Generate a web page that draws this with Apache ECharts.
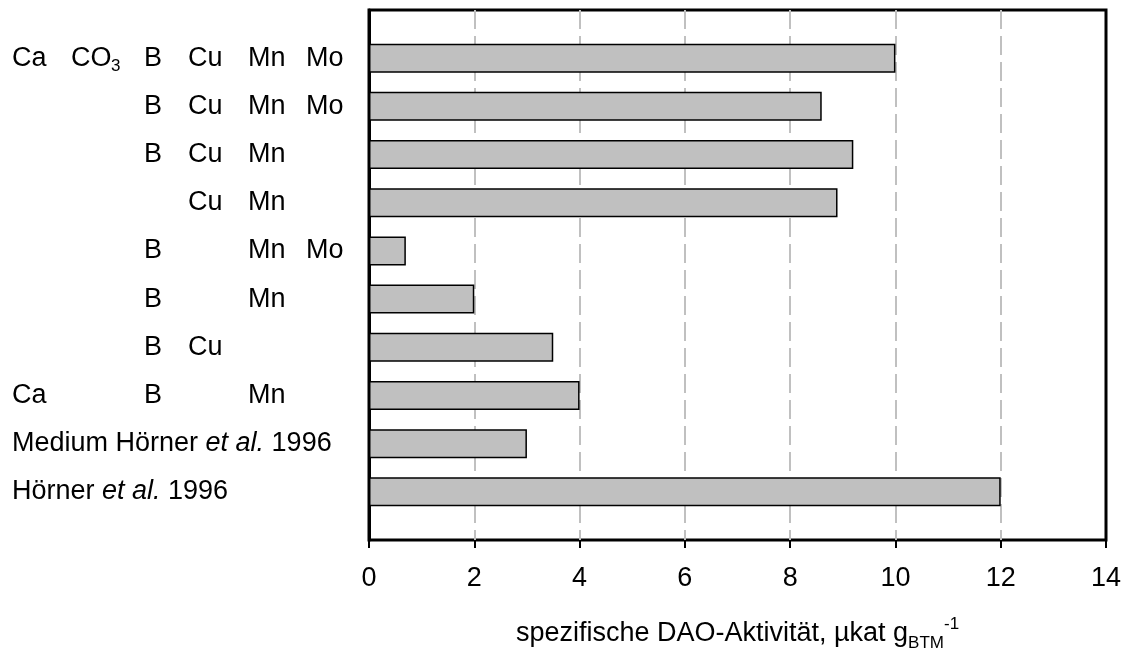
<!DOCTYPE html>
<html>
<head>
<meta charset="utf-8">
<script src="https://cdn.jsdelivr.net/npm/echarts@6/dist/echarts.min.js"></script>
<style>
  html, body { margin: 0; padding: 0; background: #fff; }
  #chart { width: 1126px; height: 653px; }
</style>
</head>
<body>
<div id="chart"></div>
<script>
// rows from top to bottom
const categories = [
    "Ca CO3 B Cu Mn Mo",
    "B Cu Mn Mo",
    "B Cu Mn",
    "Cu Mn",
    "B Mn Mo",
    "B Mn",
    "B Cu",
    "Ca B Mn",
    "Medium Hörner et al. 1996",
    "Hörner et al. 1996"
]
const activity = [10, 8.6, 9.2, 8.9, 0.7, 2.0, 3.5, 4.0, 3.0, 12.0]
const elementColumns = ["Ca", "CO3", "B", "Cu", "Mn", "Mo"]
const xTicks = [0, 2, 4, 6, 8, 10, 12, 14]

const FONT = "'Liberation Sans', Arial, sans-serif"
const FS = 27
const colWidth = [59, 73, 44, 60, 58, 60]

// blank slot at both ends so bars sit at 1..10 of 0..11
const yData = [""].concat(categories, [""])
const barData = ["-"].concat(activity, ["-"])

function formatRow(value){
    if (!value) return ""
    if (value.indexOf("et al.") >= 0){
        let parts = value.split("et al.")
        return "{t|" + parts[0] + "}{i|et al.}{t|" + parts[1] + "}"
    }
    let items = value.split(" ")
    let out = ""
    elementColumns.forEach((el, k) => {
        let has = items.indexOf(el) >= 0
        if (el === "CO3"){
            out += has ? "{co|CO}{co3|3}" : "{c" + k + "| }"
        } else {
            out += "{c" + k + "|" + (has ? el : " ") + "}"
        }
    })
    return out
}

let rich = {
    t: { fontSize: FS, fontFamily: FONT, color: "#000", lineHeight: 34 },
    i: { fontSize: FS, fontFamily: FONT, color: "#000", fontStyle: "italic", lineHeight: 34 },
    co: { fontSize: FS, fontFamily: FONT, color: "#000", lineHeight: 34, width: 40 },
    co3: { fontSize: 17, fontFamily: FONT, color: "#000", lineHeight: 34, verticalAlign: "bottom", width: colWidth[1] - 40 }
}
colWidth.forEach((w, k) => {
    rich["c" + k] = { fontSize: FS, fontFamily: FONT, color: "#000", lineHeight: 34, width: w }
})

let myChart = echarts.init(document.getElementById("chart"))
let option = {
    animation: false,
    backgroundColor: "#fff",
    grid: {
        left: 369,
        right: 20,
        top: 10,
        bottom: 113,
        outerBoundsMode: "none",
        show: true,
        borderColor: "#000",
        borderWidth: 3
    },
    xAxis: {
        type: "value",
        min: xTicks[0],
        max: xTicks[xTicks.length - 1],
        interval: 2,
        name: "spezifische DAO-Aktivität, µkat g{sub|BTM}{sup|-1}",
        nameLocation: "middle",
        nameGap: 76,
        nameTextStyle: {
            fontSize: FS,
            fontFamily: FONT,
            color: "#000",
            lineHeight: 36,
            rich: {
                sub: { fontSize: 17, fontFamily: FONT, color: "#000", verticalAlign: "bottom", lineHeight: 36 },
                sup: { fontSize: 17, fontFamily: FONT, color: "#000", verticalAlign: "top", lineHeight: 36 }
            }
        },
        axisLine: { lineStyle: { color: "#000", width: 3 } },
        axisTick: { show: true, length: 8, lineStyle: { color: "#000", width: 2 } },
        axisLabel: {
            fontSize: FS,
            fontFamily: FONT,
            color: "#000",
            margin: 25
        },
        splitLine: {
            show: true,
            showMinLine: false,
            showMaxLine: false,
            lineStyle: { color: "#c0c0c0", width: 2, type: [19, 7] }
        }
    },
    yAxis: {
        type: "category",
        inverse: true,
        boundaryGap: false,
        data: yData,
        axisLine: { lineStyle: { color: "#000", width: 3 } },
        axisTick: { show: false },
        splitLine: { show: false },
        axisLabel: {
            align: "left",
            margin: 357,
            formatter: formatRow,
            rich: rich
        }
    },
    series: [
        {
            type: "bar",
            data: barData,
            barWidth: 29,
            itemStyle: {
                color: "#c0c0c0",
                borderColor: "#000",
                borderWidth: 1.5
            }
        }
    ]
}
myChart.setOption(option)
</script>
</body>
</html>
